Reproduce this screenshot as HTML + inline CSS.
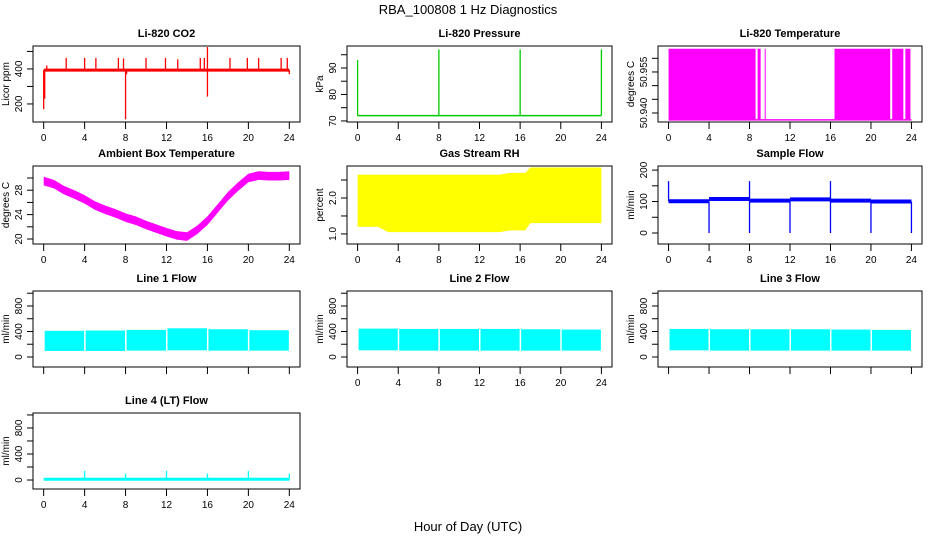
<!DOCTYPE html>
<html><head><meta charset="utf-8"><style>
body{margin:0;background:#fff}
svg text{font-family:"Liberation Sans",sans-serif;fill:#000}
</style></head><body>
<svg id="c" width="936" height="540" viewBox="0 0 936 540">
<text x="468" y="14" text-anchor="middle" font-size="13">RBA_100808  1 Hz Diagnostics</text>
<text x="468" y="531" text-anchor="middle" font-size="13">Hour of Day (UTC)</text>
</svg>
<script>
const xTicks=[0,4,8,12,16,20,24];
// CO2
const co2Base=[[0,393],[24,393]];
const co2Spikes=[[0,170],[0.1,230],[0.3,420],[2.2,463],[4,463],[5.1,463],[7.3,463],[7.8,460],[8,112],[8.1,370],[10,463],[11.9,463],[13.1,455],[15.3,463],[15.7,463],[16,525],[16,242],[18.2,463],[19.9,463],[21,463],[23.2,463],[23.8,463],[24,370]];
// Pressure
const presBase=[[0,72],[24,72]];
const presSpikes=[[0,93],[8,97],[16,97],[24,97]];
// Li-820 temperature bands
const tempBlocks=[[0,8.6],[8.8,9.1],[9.5,9.6],[16.4,21.9],[22.1,23.2],[23.4,23.9]];
const tempLo=50.9375, tempHi=50.9635;
// Ambient
const ambHours=[0,1,2,3,4,5,6,7,8,9,10,11,12,13,14,15,16,17,18,19,20,21,22,23,24];
const ambVals=[29.5,29,28,27.3,26.5,25.5,24.8,24.2,23.5,23,22.3,21.7,21.1,20.6,20.4,21.5,23,25,27,28.6,30,30.4,30.3,30.3,30.4];
// RH
const rhHours=[0,2,3,14,15,16.5,17,24];
const rhLo=[1.2,1.2,1.05,1.05,1.1,1.1,1.3,1.3];
const rhHi=[2.65,2.65,2.65,2.65,2.7,2.7,2.85,2.85];
// Sample flow
const sfSeg=[[0,4,101],[4,8,108],[8,12,103],[12,16,107],[16,20,103],[20,24,100]];
const sfSpikes=[[0,165],[4,0],[8,165],[8,0],[12,0],[16,165],[16,0],[20,0],[24,0]];
// Line flows [start,end,lo,hi]
const l1Seg=[[0,4,95,410],[4,8,95,415],[8,12,100,425],[12,16,105,450],[16,20,100,435],[20,24,100,420]];
const l2Seg=[[0,4,105,445],[4,8,100,440],[8,12,100,440],[12,16,100,440],[16,20,100,435],[20,24,100,430]];
const l3Seg=[[0,4,105,440],[4,8,100,435],[8,12,100,435],[12,16,100,435],[16,20,100,430],[20,24,100,425]];
const l4Base=[[0,12],[24,12]];
const l4Spikes=[[4,140],[8,100],[12,140],[16,100],[20,140],[24,100]];

const NS="http://www.w3.org/2000/svg",svg=document.getElementById('c');
function mk(t,a,p){const e=document.createElementNS(NS,t);for(const k in a)e.setAttribute(k,a[k]);(p||svg).appendChild(e);return e;}
const cols=[[33,300],[347,612],[658,922]],rows=[[46,122],[166,244],[291,367],[413,489]];
function panel(name,title,ytitle,c,r,ymin,ymax,ticks,labels,draw){
  const g=mk('g',{});
  
  
  const [x0,x1]=cols[c],[y0,y1]=rows[r],w=x1-x0;
  const X=h=>x0+w*0.04+h/24*w*0.92, Y=v=>y1-(v-ymin)/(ymax-ymin)*(y1-y0);
  const t=mk('text',{x:(x0+x1)/2,y:y0-9,'text-anchor':'middle','font-size':11,'font-weight':'bold'},g);t.textContent=title;
  
  const cl=mk('clipPath',{id:'cp'+name},g);mk('rect',{x:x0,y:y0,width:w,height:y1-y0},cl);
  const dg=mk('g',{'clip-path':'url(#cp'+name+')'},g);
  draw(dg,X,Y);
  const b=mk('rect',{x:x0,y:y0,width:w,height:y1-y0,fill:'none',stroke:'#000'},g);
  
  xTicks.forEach(h=>{mk('line',{x1:X(h),x2:X(h),y1:y1,y2:y1+7,stroke:'#000'},g);
    if(r===3||c===1||r<2){const l=mk('text',{x:X(h),y:y1+19,'text-anchor':'middle','font-size':10},g);l.textContent=h;
    }});
  ticks.forEach(v=>{mk('line',{x1:x0-6,x2:x0,y1:Y(v),y2:Y(v),stroke:'#000'},g);});
  labels.forEach(v=>{const l=mk('text',{x:0,y:0,'text-anchor':'middle','font-size':10,transform:`translate(${x0-11},${Y(v)}) rotate(-90)`},g);l.textContent=v;
    });
  const yt=mk('text',{x:0,y:0,'text-anchor':'middle','font-size':10,transform:`translate(${x0-24},${(y0+y1)/2}) rotate(-90)`},g);yt.textContent=ytitle;
  
}
function base(g,X,Y,arr,col,sw){mk('polyline',{points:arr.map(p=>X(p[0])+','+Y(p[1])).join(' '),fill:'none',stroke:col,'stroke-width':sw},g);}
function spikes(g,X,Y,arr,b,col){arr.forEach(s=>{const e=mk('line',{x1:X(s[0]),x2:X(s[0]),y1:Y(b(s[0])),y2:Y(s[1]),stroke:col,'stroke-width':1.3},g);});}
function segs(g,X,Y,arr,col){arr.forEach(s=>{const e=mk('rect',{x:X(s[0])+1,y:Y(s[3]),width:X(s[1])-X(s[0])-1.5,height:Y(s[2])-Y(s[3]),fill:col},g);});}

panel('co2-panel','Li-820 CO2','Licor ppm',0,0,97,531,[200,300,400,500],[200,400],(g,X,Y)=>{
  base(g,X,Y,co2Base,'#f00',3);spikes(g,X,Y,co2Spikes,()=>393,'#f00');});
panel('pressure-panel','Li-820 Pressure','kPa',1,0,69.6,98.3,[70,75,80,85,90,95],[70,80,90],(g,X,Y)=>{
  base(g,X,Y,presBase,'#0c0',1.5);spikes(g,X,Y,presSpikes,()=>72,'#0c0');});
panel('li820-temp-panel','Li-820 Temperature','degrees C',2,0,50.9367,50.9645,[50.940,50.945,50.950,50.955,50.960],['50.940','50.955'],(g,X,Y)=>{
  mk('line',{x1:X(0),x2:X(24),y1:Y(tempLo),y2:Y(tempLo),stroke:'#f0f','stroke-width':1.5},g);
  tempBlocks.forEach(b=>{const e=mk('rect',{x:X(b[0]),y:Y(tempHi),width:X(b[1])-X(b[0]),height:Y(tempLo)-Y(tempHi),fill:'#f0f'},g);});});
panel('ambient-panel','Ambient Box Temperature','degrees C',0,1,19.18,31.97,[20,22,24,26,28,30],[20,24,28],(g,X,Y)=>{
  const up=ambHours.map((h,i)=>X(h)+','+Y(ambVals[i]+0.7)),dn=ambHours.map((h,i)=>X(h)+','+Y(ambVals[i]-0.7)).reverse();
  const p=mk('polygon',{points:up.concat(dn).join(' '),fill:'#f0f'},g);});
panel('rh-panel','Gas Stream RH','percent',1,1,0.72,2.89,[1.0,1.5,2.0,2.5],['1.0','2.0'],(g,X,Y)=>{
  const up=rhHours.map((h,i)=>X(h)+','+Y(rhHi[i])),dn=rhHours.map((h,i)=>X(h)+','+Y(rhLo[i])).reverse();
  const p=mk('polygon',{points:up.concat(dn).join(' '),fill:'#ff0'},g);});
panel('sample-flow-panel','Sample Flow','ml/min',2,1,-35,213,[0,50,100,150,200],[0,100,200],(g,X,Y)=>{
  sfSeg.forEach(s=>mk('line',{x1:X(s[0]),x2:X(s[1]),y1:Y(s[2]),y2:Y(s[2]),stroke:'#00f','stroke-width':4},g));
  spikes(g,X,Y,sfSpikes,h=>{const s=sfSeg.find(q=>h>=q[0]&&h<=q[1]);return s?s[2]:100;},'#00f');});
panel('line1-panel','Line 1 Flow','ml/min',0,2,-157,1035,[0,200,400,600,800,1000],[0,400,800],(g,X,Y)=>segs(g,X,Y,l1Seg,'#0ff'));
panel('line2-panel','Line 2 Flow','ml/min',1,2,-157,1035,[0,200,400,600,800,1000],[0,400,800],(g,X,Y)=>segs(g,X,Y,l2Seg,'#0ff'));
panel('line3-panel','Line 3 Flow','ml/min',2,2,-157,1035,[0,200,400,600,800,1000],[0,400,800],(g,X,Y)=>segs(g,X,Y,l3Seg,'#0ff'));
panel('line4-panel','Line 4 (LT) Flow','ml/min',0,3,-138,1030,[0,200,400,600,800,1000],[0,400,800],(g,X,Y)=>{
  base(g,X,Y,l4Base,'#0ff',3);spikes(g,X,Y,l4Spikes,()=>12,'#0ff');});
</script>
</body></html>
